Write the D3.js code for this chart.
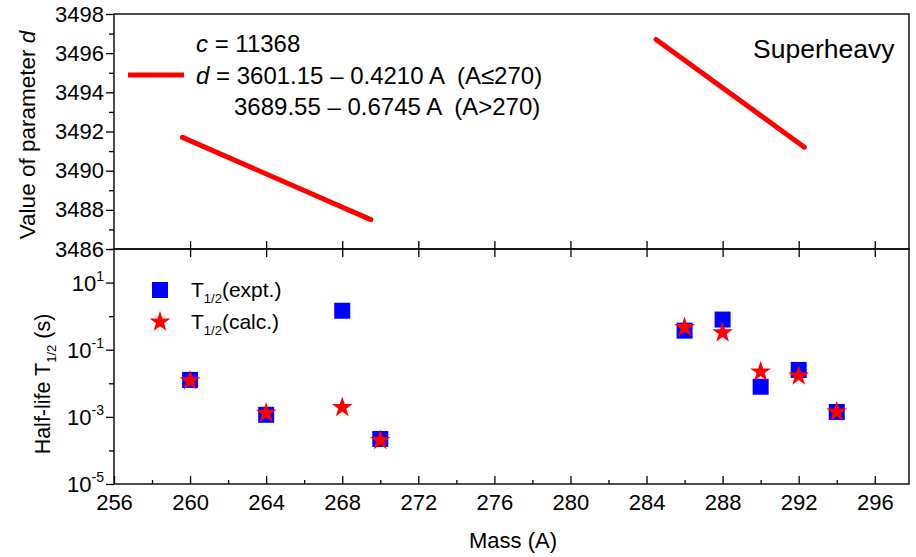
<!DOCTYPE html>
<html lang="en">
<head>
<meta charset="UTF-8">
<title>Superheavy d parameter and half-life</title>
<script src="https://cdn.jsdelivr.net/npm/d3@7"></script>
<style>
  body { margin: 0; background: #fff; }
  text { font-family: "Liberation Sans", Arial, sans-serif; fill: #000; }
</style>
</head>
<body>
<script>
    // ---- data ----
    var massTicks = [256, 260, 264, 268, 272, 276, 280, 284, 288, 292, 296];
    var massMinor = [258, 262, 266, 270, 274, 278, 282, 286, 290, 294];
    var dTicks = [3486, 3488, 3490, 3492, 3494, 3496, 3498];
    var dMinor = [3487, 3489, 3491, 3493, 3495, 3497];
    var lifeExp = [1, -1, -3, -5];       // labelled decades
    var lifeMinorExp = [2, 0, -2, -4];

    // fitted d lines (end points as drawn)
    var seg1Mass = [259.6, 269.5];
    var seg1D = [3491.7, 3487.5];
    var seg2Mass = [284.5, 292.3];
    var seg2D = [3496.7, 3491.2];

    var masses = [260, 264, 268, 270, 286, 288, 290, 292, 294];
    var halfExpt = [0.0126, 0.00115, 1.45, 0.00022, 0.37, 0.79, 0.0079, 0.025, 0.0014];
    var halfCalc = [0.012, 0.0013, 0.0019, 0.0002, 0.46, 0.32, 0.022, 0.0166, 0.0014];

    var width = 916, height = 557;
    // note: "top" is taken by window.top, so plotTop
    var left = 114, right = 909, plotTop = 14, mid = 249, bottom = 484;
    var tickFont = 22;

    var svg = d3.select('body').append('svg').attr('width', width).attr('height', height);

    var x = d3.scaleLinear().domain([256, 297.8]).range([left, right]);
    var yD = d3.scaleLinear().domain([3486, 3498]).range([mid, plotTop]);
    var yT = d3.scaleLog().domain([1e-5, 1e2]).range([bottom, mid]);

    // ---- top panel ----
    var gTopY = svg.append('g').attr('transform', 'translate(' + left + ',0)');
    gTopY.call(d3.axisLeft(yD).tickValues(dTicks).tickSize(8).tickPadding(2).tickFormat(d3.format('d')));
    gTopY.append('g').call(d3.axisLeft(yD).tickValues(dMinor).tickSize(5).tickFormat(''));

    // middle line: major ticks crossing both panels
    var gMidUp = svg.append('g').attr('transform', 'translate(0,' + mid + ')');
    gMidUp.call(d3.axisTop(x).tickValues(massTicks.slice(1)).tickSize(8).tickFormat(''));
    var gMidDown = svg.append('g').attr('transform', 'translate(0,' + mid + ')');
    gMidDown.call(d3.axisBottom(x).tickValues(massTicks.slice(1)).tickSize(8).tickFormat(''));

    var line = d3.line().x(function(d){return x(d[0]);}).y(function(d){return yD(d[1]);});
    [[seg1Mass, seg1D], [seg2Mass, seg2D]].forEach(function(s){
        svg.append('path')
            .datum(d3.zip(s[0], s[1]))
            .attr('d', line)
            .attr('fill', 'none')
            .attr('stroke', '#ff0000')
            .attr('stroke-width', 5)
            .attr('stroke-linecap', 'round');
    });

    // legend of top panel
    svg.append('line').attr('x1', 128).attr('x2', 184).attr('y1', 75).attr('y2', 75)
        .attr('stroke', '#ff0000').attr('stroke-width', 5);
    var t1 = svg.append('text').attr('x', 196).attr('y', 52).attr('font-size', 24);
    t1.append('tspan').attr('font-style', 'italic').text('c');
    t1.append('tspan').text(' = 11368');
    var t2 = svg.append('text').attr('x', 196).attr('y', 84).attr('font-size', 24);
    t2.append('tspan').attr('font-style', 'italic').text('d');
    t2.append('tspan').attr('xml:space', 'preserve').text(' = 3601.15 \u2013 0.4210 A  (A\u2264270)');
    svg.append('text').attr('x', 234).attr('y', 115).attr('font-size', 24)
        .attr('xml:space', 'preserve').text('3689.55 \u2013 0.6745 A  (A>270)');
    svg.append('text').attr('x', 753).attr('y', 58).attr('font-size', 26.5).text('Superheavy');

    // ---- bottom panel ----
    var gBotX = svg.append('g').attr('transform', 'translate(0,' + bottom + ')');
    gBotX.call(d3.axisBottom(x).tickValues(massTicks).tickSize(-8).tickFormat(d3.format('d')));
    gBotX.selectAll('text').attr('y', 26).attr('dy', 0);
    gBotX.append('g').call(d3.axisBottom(x).tickValues(massMinor).tickSize(-4).tickFormat(''));

    var gBotY = svg.append('g').attr('transform', 'translate(' + left + ',0)');
    gBotY.call(d3.axisLeft(yT).tickValues(lifeExp.map(function(e){return Math.pow(10, e);})).tickSize(8).tickFormat(''));
    gBotY.append('g').call(d3.axisLeft(yT).tickValues(lifeMinorExp.map(function(e){return Math.pow(10, e);})).tickSize(5).tickFormat(''));
    lifeExp.forEach(function(e){
        var t = gBotY.append('text').attr('x', -10).attr('y', yT(Math.pow(10, e)) + 8)
            .attr('text-anchor', 'end').attr('font-size', tickFont);
        t.append('tspan').text('10');
        t.append('tspan').attr('dy', -10).attr('font-size', 14).text(e);
    });

    // frames
    svg.selectAll('.domain').remove();
    svg.append('rect').attr('x', left).attr('y', plotTop).attr('width', right - left).attr('height', mid - plotTop)
        .attr('fill', 'none').attr('stroke', '#000').attr('stroke-width', 1.4);
    svg.append('rect').attr('x', left).attr('y', mid).attr('width', right - left).attr('height', bottom - mid)
        .attr('fill', 'none').attr('stroke', '#000').attr('stroke-width', 1.4);
    svg.selectAll('.tick line').attr('stroke-width', 1.3);
    svg.selectAll('.tick text').attr('font-size', tickFont).attr('font-family', '"Liberation Sans", Arial, sans-serif');

    // markers
    var sq = d3.symbol().type(d3.symbolSquare).size(256);
    var st = d3.symbol().type(d3.symbolStar).size(135);
    svg.append('g').selectAll('path').data(masses).enter().append('path')
        .attr('d', sq)
        .attr('transform', function(d, i){return 'translate(' + x(d) + ',' + yT(halfExpt[i]) + ')';})
        .attr('fill', '#0000ff');
    svg.append('g').selectAll('path').data(masses).enter().append('path')
        .attr('d', st)
        .attr('transform', function(d, i){return 'translate(' + x(d) + ',' + yT(halfCalc[i]) + ')';})
        .attr('fill', '#ff0000');

    // legend of bottom panel
    svg.append('path').attr('d', sq).attr('transform', 'translate(160,290)').attr('fill', '#0000ff');
    svg.append('path').attr('d', st).attr('transform', 'translate(160,322)').attr('fill', '#ff0000');
    [['(expt.)', 297], ['(calc.)', 329]].forEach(function(l){
        var t = svg.append('text').attr('x', 191).attr('y', l[1]).attr('font-size', 21);
        t.append('tspan').text('T');
        t.append('tspan').attr('dy', 6).attr('font-size', 13).text('1/2');
        t.append('tspan').attr('dy', -6).text(l[0]);
    });

    // axis titles
    svg.append('text').attr('x', 513).attr('y', 548).attr('text-anchor', 'middle').attr('font-size', 22).text('Mass (A)');
    var ty = svg.append('text').attr('transform', 'translate(35,135) rotate(-90)')
        .attr('text-anchor', 'middle').attr('font-size', 22.5);
    ty.append('tspan').text('Value of parameter ');
    ty.append('tspan').attr('font-style', 'italic').text('d');
    var tb = svg.append('text').attr('transform', 'translate(50,384) rotate(-90)')
        .attr('text-anchor', 'middle').attr('font-size', 21.5);
    tb.append('tspan').text('Half-life T');
    tb.append('tspan').attr('dy', 6).attr('font-size', 13).text('1/2');
    tb.append('tspan').attr('dy', -6).attr('xml:space', 'preserve').text(' (s)');
</script>
</body>
</html>
